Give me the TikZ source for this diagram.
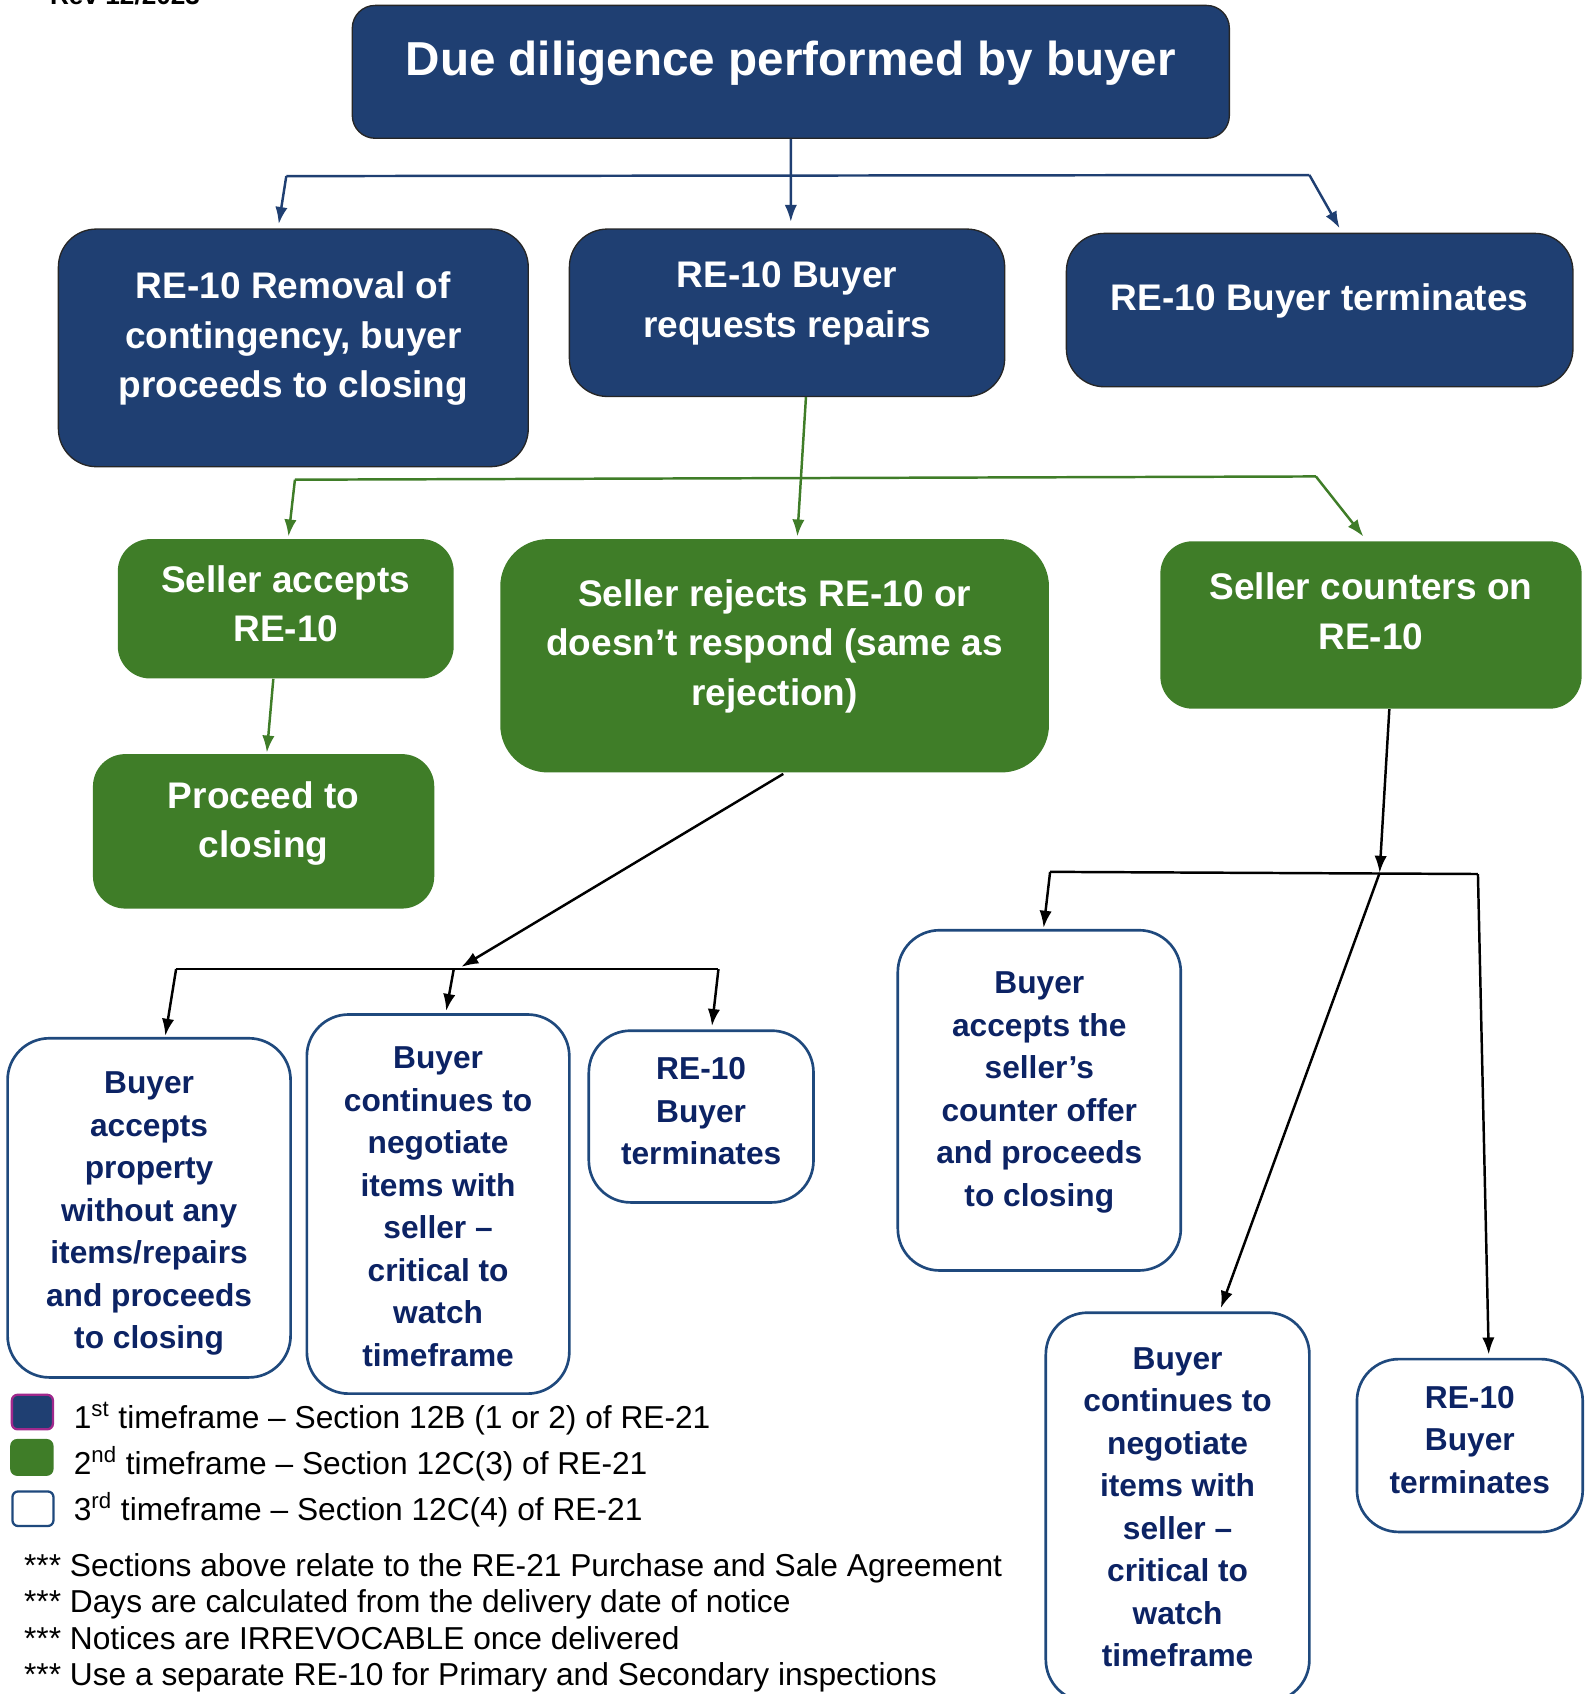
\documentclass[tikz,border=0pt]{standalone}
\usepackage{fontspec}
\setmainfont{Liberation Sans}
\usetikzlibrary{arrows.meta,calc}
\definecolor{dkblue}{RGB}{31,63,114}
\definecolor{grn}{RGB}{63,125,40}
\definecolor{navy}{RGB}{12,35,100}
\definecolor{rimblue}{RGB}{31,73,125}
\definecolor{keyrim}{RGB}{160,40,140}
\newdimen\pxu \pxu=0.5669pt
\newcommand{\lift}[1]{\rule[-#1\pxu]{0pt}{#1\pxu}}
\newcommand{\drop}[1]{\rule{0pt}{#1\pxu}}

\begin{document}
\begin{tikzpicture}[x=0.02cm,y=-0.02cm,
    bluebox/.style={draw=black!85,line width=0.7pt,fill=dkblue,text=white,rounded corners=20pt,align=center,inner sep=0pt,font=\bfseries\fontsize{19.5}{26.1}\selectfont},
    greenbox/.style={fill=grn,text=white,rounded corners=17pt,align=center,inner sep=0pt,font=\bfseries\fontsize{19.5}{26.1}\selectfont},
    whitebox/.style={draw=rimblue,line width=1.4pt,fill=white,text=navy,rounded corners=22pt,align=center,inner sep=0pt,font=\bfseries\fontsize{16.7}{22.4}\selectfont},
    keybox/.style={minimum width=0.76cm,minimum height=0.64cm,rounded corners=3pt,line width=1.2pt,inner sep=0pt},
    keytext/.style={anchor=base west,inner sep=0pt,font=\fontsize{16.7}{20}\selectfont},
    bwire/.style={draw=dkblue,line width=1.3pt},
    gwire/.style={draw=grn,line width=1.3pt},
    kwire/.style={draw=black,line width=1.3pt},
    pointed/.style={-{Latex[length=9pt,width=6.5pt]}}]
    \useasboundingbox (0,0) rectangle (1467,1568);

    \node[keytext,font=\bfseries\fontsize{13.8}{16}\selectfont] (rev) at (46,4) {Rev 12/2023};

    \node[bluebox,rounded corners=12pt,minimum width=16.24cm,minimum height=2.46cm,font=\bfseries\fontsize{25.1}{30}\selectfont] (due) at (732,66.5) {Due diligence performed by buyer\lift{25}};
    \node[bluebox,minimum width=8.7cm,minimum height=4.4cm] (rem) at (271.5,322) {RE-10 Removal of\\contingency, buyer\\proceeds to closing\lift{24}};
    \node[bluebox,minimum width=8.06cm,minimum height=3.1cm] (req) at (728.5,289.5) {RE-10 Buyer\\requests repairs\lift{25}};
    \node[bluebox,minimum width=9.38cm,minimum height=2.84cm] (term) at (1221.5,287) {RE-10 Buyer terminates\lift{24}};

    \node[greenbox,minimum width=6.22cm,minimum height=2.58cm] (acc) at (264.5,563.5) {Seller accepts\\RE-10\lift{10}};
    \node[greenbox,rounded corners=25pt,minimum width=10.16cm,minimum height=4.32cm] (rej) at (717,607) {Seller rejects RE-10 or\\doesn’t respond (same as\\rejection)\lift{25}};
    \node[greenbox,minimum width=7.8cm,minimum height=3.1cm] (ctr) at (1269,578.5) {Seller counters on\\RE-10\lift{26}};
    \node[greenbox,minimum width=6.32cm,minimum height=2.86cm] (close) at (244,769.5) {Proceed to\\closing\lift{22}};

    \node[whitebox,minimum width=5.24cm,minimum height=6.28cm] (keep) at (138,1118) {\drop{31}Buyer\\accepts\\property\\without any\\items/repairs\\and proceeds\\to closing};
    \node[whitebox,minimum width=4.86cm,minimum height=7.02cm] (nego) at (405.5,1114.5) {\drop{25}Buyer\\continues to\\negotiate\\items with\\seller –\\critical to\\watch\\timeframe};
    \node[whitebox,minimum width=4.16cm,minimum height=3.18cm] (quit) at (649,1033.5) {RE-10\\Buyer\\terminates\lift{10}};
    \node[whitebox,minimum width=5.24cm,minimum height=6.3cm] (take) at (962,1018.5) {Buyer\\accepts the\\seller’s\\counter offer\\and proceeds\\to closing\lift{21}};
    \node[whitebox,minimum width=4.88cm,minimum height=7.2cm] (renego) at (1090,1395) {Buyer\\continues to\\negotiate\\items with\\seller –\\critical to\\watch\\timeframe};
    \node[whitebox,minimum width=4.18cm,minimum height=3.2cm] (requit) at (1360.5,1338) {RE-10\\Buyer\\terminates\lift{11}};

    \coordinate (bl) at (265,163);
    \coordinate (br) at (1212,162);
    \draw[bwire] (bl) -- (br);
    \draw[bwire,pointed] (due.south) -- ($(req.north)+(3.5,-6)$);
    \draw[bwire,pointed] (bl) -- ($(rem.north)+(-13.5,-4)$);
    \draw[bwire,pointed] (br) -- ($(term.north)+(18.5,-4)$);

    \coordinate (gl) at (273,444);
    \coordinate (gr) at (1218,441);
    \draw[gwire] (gl) -- (gr);
    \draw[gwire,pointed] ($(req.south)+(17.5,0)$) -- ($(rej.north)+(21,-2)$);
    \draw[gwire,pointed] (gl) -- ($(acc.north)+(2.5,-2)$);
    \draw[gwire,pointed] (gr) -- ($(ctr.north)+(-7,-4)$);
    \draw[gwire,pointed] ($(acc.south)+(-11.5,0)$) -- ($(close.north)+(3,-1)$);

    \coordinate (kl) at (163,897);
    \coordinate (km) at (427,895);
    \coordinate (kc) at (420,897);
    \coordinate (kr) at (665,897);
    \draw[kwire] (kl) -- (kr);
    \draw[kwire,pointed] ($(rej.south)+(8,1)$) -- (km);
    \draw[kwire,pointed] (kl) -- ($(keep.north)+(15,-1)$);
    \draw[kwire,pointed] (kc) -- ($(nego.north)+(7.5,-2)$);
    \draw[kwire,pointed] (kr) -- ($(quit.north)+(10,-3)$);

    \coordinate (cl) at (972,807);
    \coordinate (cm) at (1277,808);
    \coordinate (cr) at (1368,809);
    \draw[kwire] (cl) -- (cr);
    \draw[kwire,pointed] ($(ctr.south)+(17,0)$) -- (cm);
    \draw[kwire,pointed] (cl) -- ($(take.north)+(4,-1)$);
    \draw[kwire,pointed] (cm) -- ($(renego.north)+(40,-3)$);
    \draw[kwire,pointed] (cr) -- ($(requit.north)+(17.5,-3)$);

    \node[keybox,fill=dkblue,draw=keyrim] (k1) at (30,1307) {};
    \node[keybox,fill=grn,draw=grn] (k2) at (29.5,1349) {};
    \node[keybox,fill=white,draw=rimblue] (k3) at (30.5,1396.5) {};
    \node[keytext] (t1) at (68,1322) {1\textsuperscript{st} timeframe – Section 12B (1 or 2) of RE-21};
    \node[keytext] (t2) at (68,1365) {2\textsuperscript{nd} timeframe – Section 12C(3) of RE-21};
    \node[keytext] (t3) at (68,1407) {3\textsuperscript{rd} timeframe – Section 12C(4) of RE-21};

    \node[keytext] (n1) at (22,1459) {*** Sections above relate to the RE-21 Purchase and Sale Agreement};
    \node[keytext] (n2) at (22,1493) {*** Days are calculated from the delivery date of notice};
    \node[keytext] (n3) at (22,1527) {*** Notices are IRREVOCABLE once delivered};
    \node[keytext] (n4) at (22,1560) {*** Use a separate RE-10 for Primary and Secondary inspections};
\end{tikzpicture}
\end{document}
